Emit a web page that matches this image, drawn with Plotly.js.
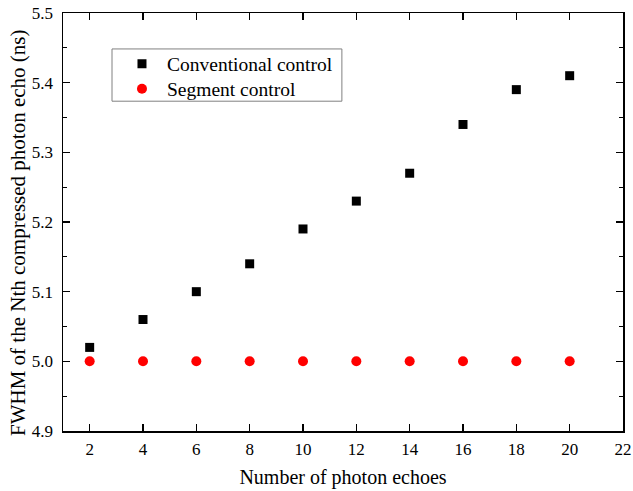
<!DOCTYPE html>
<html><head><meta charset="utf-8">
<script src="https://cdn.plot.ly/plotly-3.0.1.min.js"></script>
<style>html,body{margin:0;padding:0;background:#fff}#c{width:633px;height:491px}</style>
</head><body><div id="c"></div>
<script>
const echoes = [2, 4, 6, 8, 10, 12, 14, 16, 18, 20];
const conventional = [5.02, 5.06, 5.10, 5.14, 5.19, 5.23, 5.27, 5.34, 5.39, 5.41];
const segment = [5.00, 5.00, 5.00, 5.00, 5.00, 5.00, 5.00, 5.00, 5.00, 5.00];
const names = ["Conventional control", "Segment control"];
const xTitle = "Number of photon echoes";
const yTitle = "FWHM of the Nth compressed photon echo (ns)";

const font = {family: "Liberation Serif, Times New Roman, serif", color: "#000"};
const data = [
  {x: echoes, y: conventional, name: names[0], mode: "markers", type: "scatter", legend: "legend",
   marker: {symbol: "square", size: 9, color: "#000"}},
  {x: echoes, y: segment, name: names[1], mode: "markers", type: "scatter", legend: "legend2",
   marker: {symbol: "circle", size: 10, color: "#ff0000"}}
];
const axisCommon = {showline: true, linecolor: "#000", linewidth: 1.5, mirror: "ticks",
  ticks: "inside", ticklen: 7, tickwidth: 1.3, tickcolor: "#000", showgrid: false, zeroline: false,
  tickfont: {family: font.family, size: 17, color: "#000"}};
const legendCommon = {xanchor: "left", yanchor: "middle", bgcolor: "rgba(0,0,0,0)",
  borderwidth: 0, font: {family: font.family, size: 19.5, color: "#000"}, itemwidth: 40};
const layout = {
  width: 633, height: 491,
  margin: {l: 63, r: 10, t: 13, b: 60},
  paper_bgcolor: "#fff", plot_bgcolor: "#fff",
  font: font,
  showlegend: true,
  legend: Object.assign({}, legendCommon, {x: 0.0964, y: 0.878}),
  legend2: Object.assign({}, legendCommon, {x: 0.0964, y: 0.818}),
  shapes: [{type: "rect", xref: "paper", yref: "paper", x0: 0.0875, x1: 0.498, y0: 0.789, y1: 0.914,
    line: {color: "#808080", width: 1}, fillcolor: "#fff", layer: "below"}],
  xaxis: Object.assign({}, axisCommon, {range: [1, 22], tickvals: [2,4,6,8,10,12,14,16,18,20,22],
    ticklabelstandoff: 2,
    title: {text: xTitle, font: {family: font.family, size: 20, color: "#000"}, standoff: 12}}),
  yaxis: Object.assign({}, axisCommon, {range: [4.9, 5.5], dtick: 0.1, tickformat: ".1f",
    ticklabelstandoff: 5,
    minor: {dtick: 0.05, ticks: "inside", ticklen: 4, tickcolor: "#000", tickwidth: 1.2, showgrid: false}}),
  annotations: [{text: yTitle, xref: "paper", yref: "paper", x: -0.0804, y: 0.476,
    xanchor: "center", yanchor: "middle", textangle: -90, showarrow: false,
    font: {family: font.family, size: 21, color: "#000"}}]
};
Plotly.newPlot("c", data, layout, {displayModeBar: false, staticPlot: true});
</script></body></html>
